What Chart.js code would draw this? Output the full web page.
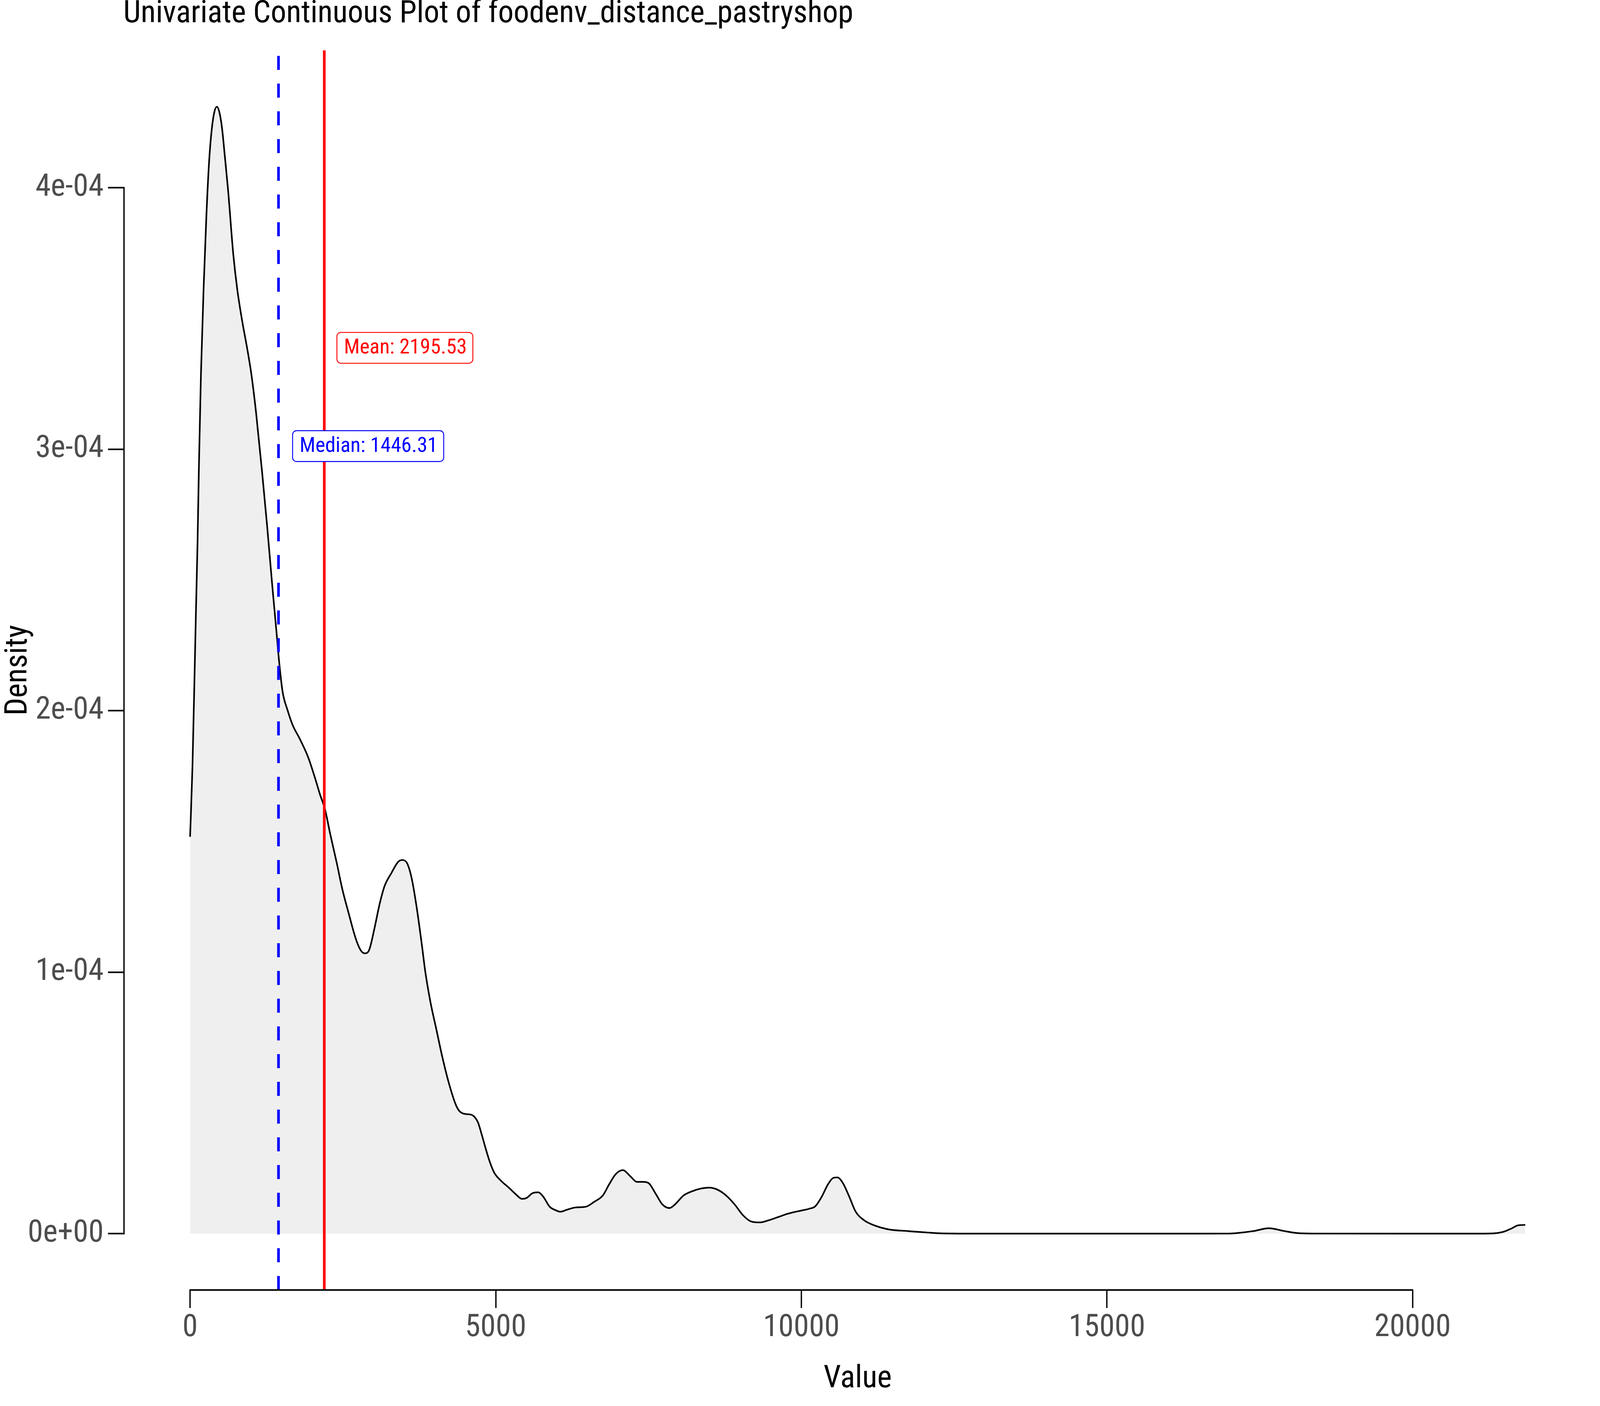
<!DOCTYPE html>
<html><head><meta charset="utf-8">
<script src="https://cdn.jsdelivr.net/npm/chart.js@4.4.1/dist/chart.umd.min.js"></script>
<style>html,body{margin:0;padding:0;background:#fff;overflow:hidden}canvas{display:block}</style>
</head><body>
<canvas id="c"></canvas>
<script>
const titleText = 'Univariate Continuous Plot of foodenv_distance_pastryshop';
const xAxisTitle = 'Value';
const yAxisTitle = 'Density';

const densityX = [0,39,94,122,144,178,222,267,311,356,400,439,484,523,567,623,706,773,857,929,1001,1079,1179,1262,1346,1413,1457,1513,1596,1680,1791,1930,2042,2125,2208,2292,2402,2486,2598,2709,2793,2859,2931,3014,3098,3181,3293,3404,3476,3554,3626,3710,3794,3849,3932,4030,4127,4238,4349,4405,4461,4527,4600,4655,4711,4771,4840,4910,4979,5084,5223,5327,5431,5501,5605,5696,5779,5883,5987,6057,6161,6300,6474,6613,6752,6857,6961,7079,7204,7309,7413,7503,7621,7726,7844,7934,8073,8212,8351,8490,8630,8769,8908,9047,9186,9325,9464,9638,9777,9951,10124,10229,10333,10437,10521,10590,10681,10785,10889,11028,11202,11411,11758,12036,12314,13000,15000,17000,17119,17400,17647,17900,18123,18400,20000,21000,21315,21480,21620,21730,21843];
const densityY = [1.518e-4,1.787e-4,2.36e-4,2.645e-4,2.93e-4,3.29e-4,3.62e-4,3.895e-4,4.10e-4,4.227e-4,4.293e-4,4.31e-4,4.284e-4,4.227e-4,4.124e-4,3.987e-4,3.747e-4,3.609e-4,3.484e-4,3.392e-4,3.289e-4,3.141e-4,2.91e-4,2.702e-4,2.474e-4,2.302e-4,2.187e-4,2.073e-4,2.001e-4,1.944e-4,1.894e-4,1.823e-4,1.744e-4,1.680e-4,1.622e-4,1.529e-4,1.415e-4,1.322e-4,1.222e-4,1.129e-4,1.083e-4,1.072e-4,1.086e-4,1.165e-4,1.258e-4,1.329e-4,1.379e-4,1.422e-4,1.429e-4,1.415e-4,1.358e-4,1.243e-4,1.100e-4,1.000e-4,0.886e-4,0.78e-4,0.675e-4,0.572e-4,0.492e-4,0.469e-4,0.460e-4,0.457e-4,0.455e-4,0.446e-4,0.425e-4,0.379e-4,0.322e-4,0.270e-4,0.232e-4,0.203e-4,0.174e-4,0.151e-4,0.133e-4,0.136e-4,0.155e-4,0.158e-4,0.141e-4,0.103e-4,0.089e-4,0.084e-4,0.091e-4,0.100e-4,0.103e-4,0.122e-4,0.146e-4,0.189e-4,0.227e-4,0.243e-4,0.219e-4,0.198e-4,0.198e-4,0.193e-4,0.151e-4,0.112e-4,0.098e-4,0.112e-4,0.146e-4,0.162e-4,0.172e-4,0.176e-4,0.168e-4,0.146e-4,0.112e-4,0.070e-4,0.046e-4,0.043e-4,0.051e-4,0.065e-4,0.076e-4,0.086e-4,0.095e-4,0.105e-4,0.141e-4,0.189e-4,0.213e-4,0.215e-4,0.193e-4,0.141e-4,0.084e-4,0.051e-4,0.031e-4,0.017e-4,0.0095e-4,0.0048e-4,0.001e-4,0.0002e-4,0.0001e-4,0.0003e-4,0.002e-4,0.010e-4,0.0206e-4,0.010e-4,0.002e-4,0.0003e-4,0.0001e-4,0.0002e-4,0.001e-4,0.0067e-4,0.020e-4,0.032e-4,0.0334e-4];

const meanValue = 2195.53;
const medianValue = 1446.31;
const meanLabel = 'Mean: 2195.53';
const medianLabel = 'Median: 1446.31';
const meanLabelAnchor = [2402, 3.388e-4];
const medianLabelAnchor = [1677, 3.012e-4];

const xTickValues = [0, 5000, 10000, 15000, 20000];
const xTickLabels = ['0', '5000', '10000', '15000', '20000'];
const yTickValues = [0, 1e-4, 2e-4, 3e-4, 4e-4];
const yTickLabels = ['0e+00', '1e-04', '2e-04', '3e-04', '4e-04'];

const FONT = "'Roboto Condensed', Roboto, sans-serif";
Chart.defaults.font.family = FONT;

// the design is laid out on a 4800 x 3600 grid and stretched to fill the window
const W = window.innerWidth, H = window.innerHeight;
const SX = W / 4800, SY = H / 3600, SF = Math.sqrt(SX * SY);
const sx = v => v * SX, sy = v => v * SY, sf = v => v * SF;
const F = sf(86), LF = sf(58);

const xLo = Math.min(...densityX), xHi = Math.max(...densityX);
const xMin = xLo - 0.05 * (xHi - xLo), xMax = xHi + 0.05 * (xHi - xLo);
const yHi = Math.max(...densityY);
const yMin = -0.05 * yHi, yMax = 1.05 * yHi;

const curve = densityX.map((x, i) => ({x, y: densityY[i]}));

function rr(ctx, x, y, w, h, r) {
  ctx.beginPath();
  ctx.moveTo(x + r, y);
  ctx.lineTo(x + w - r, y); ctx.arcTo(x + w, y, x + w, y + r, r);
  ctx.lineTo(x + w, y + h - r); ctx.arcTo(x + w, y + h, x + w - r, y + h, r);
  ctx.lineTo(x + r, y + h); ctx.arcTo(x, y + h, x, y + h - r, r);
  ctx.lineTo(x, y + r); ctx.arcTo(x, y, x + r, y, r);
  ctx.closePath();
}

const decor = {
  id: 'decor',
  afterDatasetsDraw(chart) {
    const ctx = chart.ctx, xs = chart.scales.x, ys = chart.scales.y;
    const labels = [[meanLabel, meanLabelAnchor, '#FF0000'], [medianLabel, medianLabelAnchor, '#0000FF']];
    ctx.save();
    ctx.font = LF + 'px ' + FONT;
    ctx.textBaseline = 'middle';
    ctx.textAlign = 'left';
    for (const [txt, a, col] of labels) {
      const left = xs.getPixelForValue(a[0]);
      const cy = ys.getPixelForValue(a[1]);
      const w = ctx.measureText(txt).width + sx(39), h = sy(79);
      rr(ctx, left, cy - h / 2, w, h, sf(11));
      ctx.fillStyle = '#fff'; ctx.fill();
      ctx.lineWidth = sf(2.5); ctx.strokeStyle = col; ctx.stroke();
      ctx.fillStyle = col;
      ctx.fillText(txt, left + sx(21), cy + sy(1));
    }
    ctx.restore();
  },
  afterDraw(chart) {
    const ctx = chart.ctx, xs = chart.scales.x, ys = chart.scales.y, ca = chart.chartArea;
    ctx.save();
    ctx.strokeStyle = '#000'; ctx.lineCap = 'butt';
    ctx.lineWidth = sx(4);
    ctx.beginPath();
    const ax = ca.left + sx(2);
    ctx.moveTo(ax, ys.getPixelForValue(yTickValues[0]) + sy(2));
    ctx.lineTo(ax, ys.getPixelForValue(yTickValues[yTickValues.length - 1]) - sy(2));
    ctx.stroke();
    ctx.lineWidth = sy(4);
    ctx.beginPath();
    const ay = ca.bottom;
    ctx.moveTo(xs.getPixelForValue(xTickValues[0]) - sx(2), ay);
    ctx.lineTo(xs.getPixelForValue(xTickValues[xTickValues.length - 1]) + sx(2), ay);
    ctx.stroke();
    ctx.restore();
  }
};

const cv = document.getElementById('c');
cv.width = W;
cv.height = H;

new Chart(cv, {
  type: 'line',
  data: {
    datasets: [
      {data: curve, borderColor: '#000', borderWidth: sf(4.5), backgroundColor: '#EFEFEF', fill: 'origin',
       pointRadius: 0, cubicInterpolationMode: 'monotone', order: 3},
      {data: [{x: medianValue, y: yMin}, {x: medianValue, y: yMax}], borderColor: '#0000FF', borderWidth: sx(8),
       borderDash: [sy(36), sy(35)], pointRadius: 0, fill: false, order: 2},
      {data: [{x: meanValue, y: yMin}, {x: meanValue, y: yMax}], borderColor: '#FF0000', borderWidth: sx(8),
       pointRadius: 0, fill: false, order: 1}
    ]
  },
  options: {
    responsive: false, animation: false,
    layout: {padding: {left: 0, right: sx(24), top: 0, bottom: 0}},
    plugins: {
      legend: {display: false}, tooltip: {enabled: false},
      title: {display: true, text: titleText, align: 'start', fullSize: false, color: '#000',
              font: {size: F, weight: 'normal', lineHeight: 0.8},
              padding: {top: sy(37.6) - 0.4 * F, bottom: sy(129) - sy(37.6) - 0.4 * F}}
    },
    scales: {
      x: {
        type: 'linear', min: xMin, max: xMax,
        afterFit: s => { s.height = sy(297); },
        afterBuildTicks: s => { s.ticks = xTickValues.map(v => ({value: v})); },
        grid: {display: true, drawOnChartArea: false, drawTicks: true, tickLength: sy(46), tickColor: '#000', tickWidth: sx(4)},
        border: {display: false},
        ticks: {color: '#4D4D4D', font: {size: F}, padding: Math.max(0, sy(52) - 0.6 * F), maxRotation: 0, autoSkip: false,
                callback: (v, i) => xTickLabels[i]},
        title: {display: true, text: xAxisTitle, color: '#000', font: {size: F}, padding: {top: 0, bottom: sy(68) - 0.6 * F}}
      },
      y: {
        type: 'linear', min: yMin, max: yMax,
        afterFit: s => { s.width = sx(370); },
        afterBuildTicks: s => { s.ticks = yTickValues.map(v => ({value: v})); },
        grid: {display: true, drawOnChartArea: false, drawTicks: true, tickLength: sx(46), tickColor: '#000', tickWidth: sy(4)},
        border: {display: false},
        ticks: {color: '#4D4D4D', font: {size: F}, padding: sx(13), autoSkip: false,
                callback: (v, i) => yTickLabels[i]},
        title: {display: true, text: yAxisTitle, color: '#000', font: {size: F}, padding: {top: Math.max(0, sx(54) - 0.6 * F), bottom: 0}}
      }
    }
  },
  plugins: [decor]
});
</script>
</body></html>
